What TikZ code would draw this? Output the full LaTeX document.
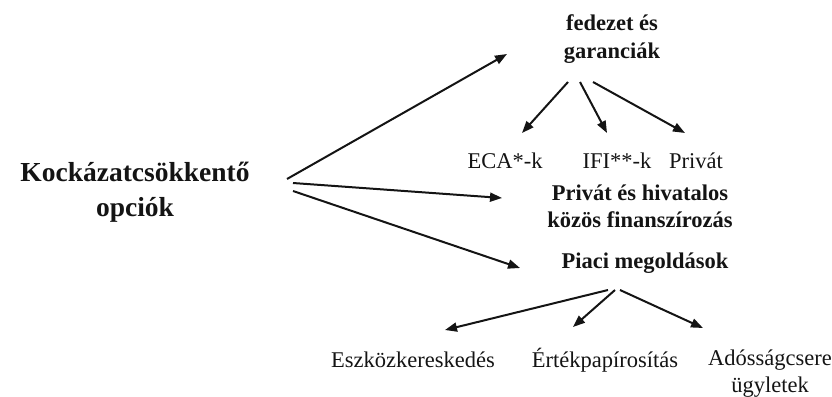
\documentclass[tikz,border=0pt]{standalone}
\usepackage{fontspec}
\setmainfont{Liberation Serif}
\usetikzlibrary{arrows.meta,calc}
\definecolor{tinta}{HTML}{141414}
\tikzset{
  nyil/.style={-{Triangle[length=12pt,width=9pt]},tinta,line width=2pt},
  focim/.style={font=\fontsize{27.5}{35}\selectfont\bfseries,align=center,inner sep=0pt,text=tinta},
  cim/.style={font=\fontsize{22.5}{27.5}\selectfont\bfseries,align=center,inner sep=0pt,text=tinta},
  elem/.style={font=\fontsize{22.5}{27}\selectfont,align=center,inner sep=0pt,text=tinta},
}

\begin{document}
\begin{tikzpicture}[x=1pt,y=-1pt]
  \useasboundingbox (0,0) rectangle (832,396);
  % szovegek
  \node[focim] (opciok) at (135,192.5) {Kockázatcsökkentő\\opciók};
  \node[cim] (fedezet) at (612,39) {fedezet és\\garanciák};
  \node[elem] (eca) at (505,161) {ECA*-k};
  \node[elem] (ifi) at (617,161) {IFI**-k};
  \node[elem] (privat) at (696,161) {Privát};
  \node[cim] (kozos) at (640,206.5) {Privát és hivatalos\\közös finanszírozás};
  \node[cim] (piaci) at (645,263) {Piaci megoldások};
  \node[elem] (eszkoz) at (413,360) {Eszközkereskedés};
  \node[elem] (ertek) at (605,360) {Értékpapírosítás};
  \node[elem] (adossag) at (770,373.5) {Adósságcsere\\ügyletek};
  % nyilak
  \draw[nyil] ($(opciok)+(152,-13.5)$) -- ($(fedezet)+(-105,15)$);
  \draw[nyil] ($(opciok)+(158,-9.5)$) -- ($(kozos)+(-138,-8.5)$);
  \draw[nyil] ($(opciok)+(158,-1.5)$) -- ($(piaci)+(-125,5)$);
  \draw[nyil] ($(fedezet)+(-44,43)$) -- ($(eca)+(17,-28)$);
  \draw[nyil] ($(fedezet)+(-32,43)$) -- ($(ifi)+(-10,-28)$);
  \draw[nyil] ($(fedezet)+(-19,43)$) -- ($(privat)+(-11,-28)$);
  \draw[nyil] ($(piaci)+(-37,27)$) -- ($(eszkoz)+(32,-30)$);
  \draw[nyil] ($(piaci)+(-30,27)$) -- ($(ertek)+(-32,-33)$);
  \draw[nyil] ($(piaci)+(-25,27)$) -- ($(adossag)+(-67,-45.5)$);
\end{tikzpicture}
\end{document}
